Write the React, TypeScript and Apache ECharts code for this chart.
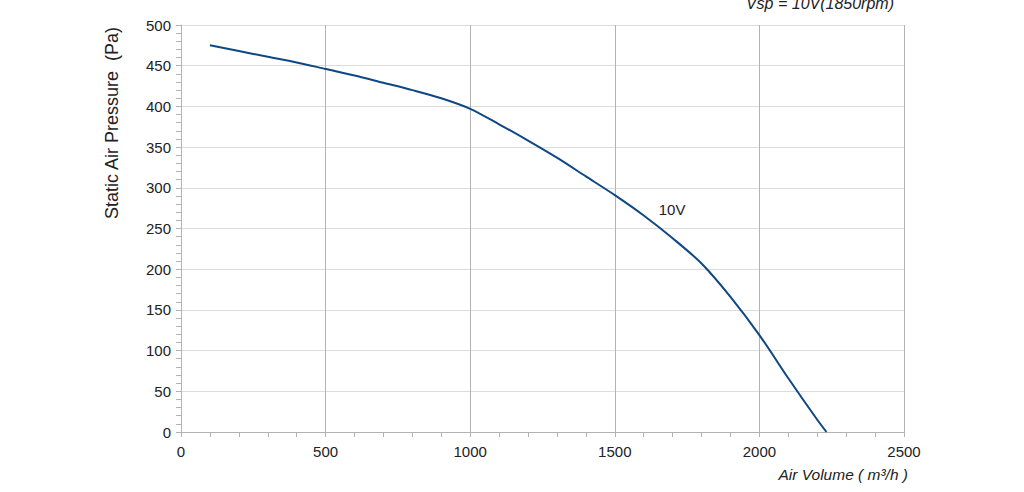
import React, { useEffect, useRef } from 'react';
import * as echarts from 'echarts';

// fan curve: air volume (m³/h) vs static pressure (Pa)
const airVolume = [100, 200, 300, 400, 500, 600, 700, 800, 900, 1000, 1100, 1200, 1300, 1400, 1500, 1600, 1700, 1800, 1900, 2000, 2100, 2200, 2232];
const pressure = [475, 468, 461, 454, 446, 438, 429, 420, 410, 397, 378, 358, 337, 314, 291, 266, 238, 207, 166, 119, 66, 15, 0];
const curveLabel = '10V';
const labelPoint = [1698, 273];

const FONT = '"Liberation Sans", Arial, sans-serif';

export default function App() {
    const chartRef = useRef<HTMLDivElement>(null);

    useEffect(() => {
        if (!chartRef.current) return;
        const chart = echarts.init(chartRef.current, undefined, { renderer: 'svg' });

        const option = {
            animation: false,
            textStyle: { fontFamily: FONT },
            grid: { left: 181, right: 120, top: 25, bottom: 60 },
            title: {
                text: 'Vsp = 10V(1850rpm)',
                right: 125,
                top: -10,
                textStyle: { fontFamily: FONT, fontSize: 16, fontStyle: 'italic', fontWeight: 'normal', color: '#222' }
            },
            xAxis: {
                type: 'value',
                min: 0,
                max: 2500,
                interval: 500,
                axisLine: { show: true, lineStyle: { color: '#b3b3b3', width: 1 } },
                axisTick: { show: true, length: 5, lineStyle: { color: '#b3b3b3' } },
                minorTick: { show: true, splitNumber: 5, length: 5, lineStyle: { color: '#b3b3b3' } },
                axisLabel: { fontFamily: FONT, fontSize: 15, color: '#222', margin: 12, formatter: (v: number) => String(v) },
                splitLine: { show: true, lineStyle: { color: '#b3b3b3', width: 1 } }
            },
            yAxis: {
                type: 'value',
                min: 0,
                max: 500,
                interval: 50,
                axisLine: { show: true, lineStyle: { color: '#b3b3b3', width: 1 } },
                axisTick: { show: true, length: 5, lineStyle: { color: '#b3b3b3' } },
                minorTick: { show: true, splitNumber: 5, length: 5, lineStyle: { color: '#b3b3b3' } },
                axisLabel: { fontFamily: FONT, fontSize: 15, color: '#222', margin: 10 },
                splitLine: { show: true, lineStyle: { color: '#dcdcdc', width: 1 } }
            },
            // axis titles sit off-centre in the reference, so they are placed by hand
            graphic: [
                {
                    type: 'text',
                    x: 112,
                    y: 123,
                    rotation: Math.PI / 2,
                    style: {
                        text: 'Static Air Pressure  (Pa)',
                        fontFamily: FONT,
                        fontSize: 18,
                        fill: '#222',
                        align: 'center',
                        verticalAlign: 'middle'
                    }
                },
                {
                    type: 'text',
                    right: 116,
                    top: 466,
                    style: {
                        text: 'Air Volume ( m³/h )',
                        fontFamily: FONT,
                        fontSize: 15.5,
                        fontStyle: 'italic',
                        fill: '#222'
                    }
                }
            ],
            series: [
                {
                    type: 'line',
                    data: airVolume.map((v, i) => [v, pressure[i]]),
                    smooth: 0.3,
                    showSymbol: false,
                    lineStyle: { color: '#0f4784', width: 2 },
                    markPoint: {
                        symbol: 'circle',
                        symbolSize: 0,
                        label: {
                            show: true,
                            position: 'inside',
                            formatter: curveLabel,
                            fontFamily: FONT,
                            fontSize: 15,
                            color: '#222'
                        },
                        data: [{ coord: labelPoint }]
                    }
                }
            ]
        };

        chart.setOption(option);
        return () => chart.dispose();
    }, []);

    return (
        <div
            ref={chartRef}
            style={{ position: 'fixed', left: 0, top: 0, width: 1024, height: 492, background: '#fff' }}
        />
    );
}
